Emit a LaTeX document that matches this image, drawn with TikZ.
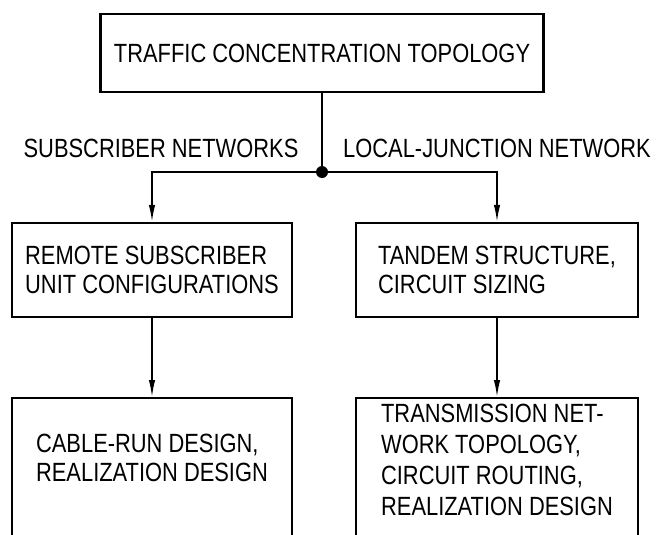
\documentclass[tikz,border=0pt]{standalone}
\usepackage{fontspec}
\setmainfont{Liberation Sans}[FakeStretch=0.83]
\usetikzlibrary{arrows.meta, positioning}

\begin{document}
\begin{tikzpicture}[>={Latex[length=3.4mm,width=1.3mm]},
    box/.style={draw, line width=1.3pt, inner sep=0pt},
    txt/.style={align=left, font=\fontsize{15}{16.8}\selectfont},
    conn/.style={line width=0.9pt}]
    \useasboundingbox (0,0) rectangle (13.14,-10.68);
    \clip (0,0) rectangle (13.14,-10.68);

    % 1. Oberste Ebene
    \node[box, txt, minimum width=8.86cm, minimum height=1.56cm] (topo) at (6.44,-1.06)
        {TRAFFIC CONCENTRATION TOPOLOGY};
    \coordinate (split) at (6.44,-3.44);
    \fill (split) circle (0.12);

    % 2. Zweige
    \node[txt] (subnet) at (3.22,-2.96) {SUBSCRIBER NETWORKS};
    \node[txt] (junnet) at (9.94,-2.96) {LOCAL-JUNCTION NETWORK};

    \node[box, txt, minimum width=5.6cm, minimum height=1.88cm] (remote) at (3.04,-5.4)
        {REMOTE SUBSCRIBER\\UNIT CONFIGURATIONS};
    \node[box, txt, minimum width=5.64cm, minimum height=1.88cm] (tandem) at (9.94,-5.4)
        {TANDEM STRUCTURE,\\CIRCUIT SIZING};

    % 3. Untere Kaesten (unten abgeschnitten)
    \node[box, minimum width=5.6cm, minimum height=3.5cm, anchor=north] (cable) at (3.04,-7.94) {};
    \node[txt] (cabletxt) at (3.04,-9.16) {CABLE-RUN DESIGN,\\REALIZATION DESIGN};
    \node[box, minimum width=5.64cm, minimum height=3.5cm, anchor=north] (trans) at (9.94,-7.94) {};
    \node[txt, font=\fontsize{15}{17.6}\selectfont] (transtxt) at (9.94,-9.2)
        {TRANSMISSION NET-\\WORK TOPOLOGY,\\CIRCUIT ROUTING,\\REALIZATION DESIGN};

    % 4. Verbindungen
    \draw[conn] (topo) -- (split);
    \draw[conn, ->] (split) -| (remote);
    \draw[conn, ->] (split) -| (tandem);
    \draw[conn, ->] (remote) -- (cable);
    \draw[conn, ->] (tandem) -- (trans);
\end{tikzpicture}
\end{document}
